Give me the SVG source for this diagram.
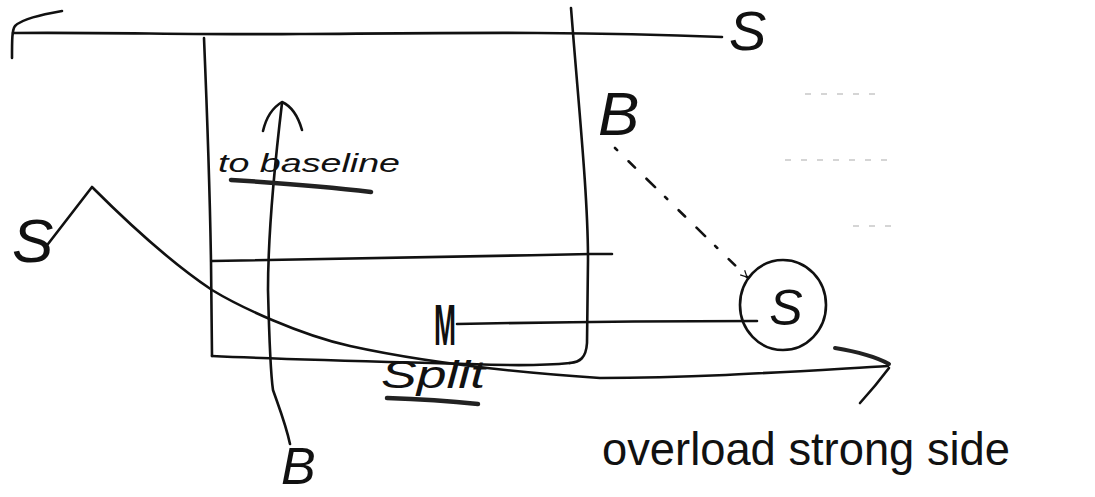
<svg xmlns="http://www.w3.org/2000/svg" width="1095" height="497" viewBox="0 0 1095 497">
<style>
.ln{fill:none;stroke:#111;stroke-width:2.6;stroke-linecap:round;stroke-linejoin:round}
.ul{fill:none;stroke:#222;stroke-width:4.5;stroke-linecap:round}
.hw{font-family:"Liberation Sans","DejaVu Sans",sans-serif;font-style:italic;fill:#111}
.lbl{font-family:"Liberation Sans","DejaVu Sans",sans-serif;fill:#111}
.faint{fill:none;stroke:#c8c8c8;stroke-width:1.5;stroke-dasharray:6 10}
</style>
<defs>
<marker id="ah" viewBox="0 0 10 10" refX="9" refY="5" markerWidth="8" markerHeight="8" orient="auto" markerUnits="userSpaceOnUse">
<path d="M1,1 L9,5 L1,9" fill="none" stroke="#111" stroke-width="1.5"/>
</marker>
</defs>
<rect width="1095" height="497" fill="#fff"/>

<g id="field">
<path class="ln" d="M62,11 C40,15 22,19 15,26 C12,30 12,40 12,58"/>
<path class="ln" d="M13,33 C100,32 200,35 300,34 C450,33 572,31 722,37"/>
<path class="ln" d="M204,38 C207,110 210,200 211,262 L212,356"/>
<path class="ln" d="M571,8 L573,33 C580,120 588,200 588,260 L587,343 C586,358 580,362 570,363"/>
<path class="ln" d="M212,356 C300,360 400,362 470,364 C520,366 550,365 570,363"/>
<path class="ln" d="M212,261 C300,259 450,257 590,254 L612,254"/>
<path class="faint" d="M805,94 L882,94"/>
<path class="faint" d="M785,160 L890,160"/>
<path class="faint" d="M853,226 L897,226"/>
</g>

<g id="connectors">
<path class="ln" d="M290,444 C286,425 280,410 273,390 C270,370 269,330 268,290 C268,240 274,170 282,103"/>
<path class="ln" d="M263,131 C266,118 272,108 282,102 C291,106 298,116 302,130"/>
<path class="ln" d="M48,244 L92,187 C130,225 170,262 212,290 C240,307 300,335 350,346 C400,357 480,370 600,378 C700,378 800,371 888,366"/>
<path d="M835,348 C860,352 878,358 889,364" fill="none" stroke="#222" stroke-width="4" stroke-linecap="round"/>
<path class="ln" d="M889,368 C880,380 870,392 860,403"/>
<path class="ln" d="M457,324 C560,322 660,321 757,321"/>
<path class="ln" d="M615,148 L747,277" stroke-dasharray="3 16 9 16 12 14" stroke-width="2" marker-end="url(#ah)"/>
</g>

<g id="node-S-top"><text class="hw" x="729" y="50" font-size="56">S</text></g>
<g id="node-B-top"><text class="hw" x="598" y="135" font-size="62">B</text></g>
<g id="node-S-circle">
<ellipse class="ln" cx="783" cy="305" rx="43" ry="45"/>
<text class="hw" x="786" y="325" font-size="50" text-anchor="middle">S</text>
</g>
<g id="node-M"><text class="lbl" x="434" y="345" font-size="58" font-weight="bold" textLength="22" lengthAdjust="spacingAndGlyphs">M</text></g>
<g id="node-S-left"><text class="hw" x="12" y="262" font-size="62">S</text></g>
<g id="node-B-bottom"><text class="hw" x="281" y="484" font-size="52">B</text></g>

<g id="label-to-baseline">
<text class="hw" x="218" y="172" font-size="26" textLength="182" lengthAdjust="spacingAndGlyphs">to baseline</text>
<path class="ul" d="M231,180 C280,183 330,187 371,192"/>
</g>
<g id="label-split">
<text class="hw" x="381" y="388" font-size="38" textLength="104" lengthAdjust="spacingAndGlyphs">Split</text>
<path class="ul" d="M387,398 C420,399 450,401 478,404"/>
</g>
<g id="label-overload">
<text class="lbl" x="602" y="465" font-size="46" textLength="408" lengthAdjust="spacingAndGlyphs">overload strong side</text>
</g>
</svg>
